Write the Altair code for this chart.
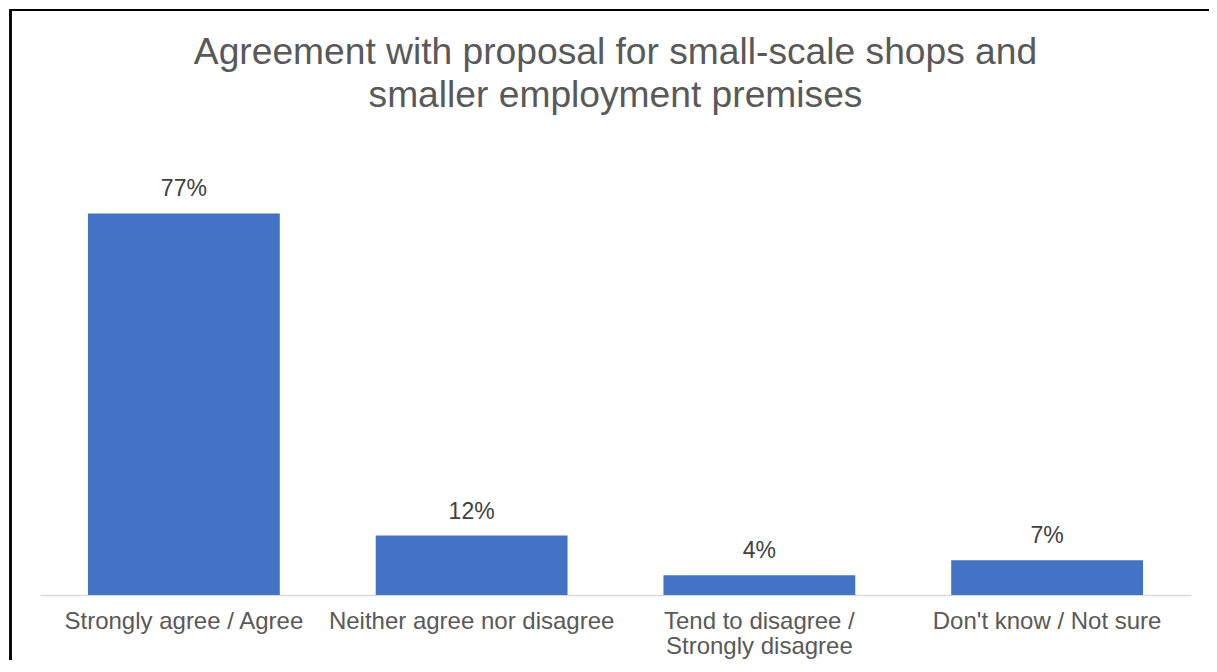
import altair as alt
import pandas as pd

categories = ["Strongly agree / Agree", "Neither agree nor disagree",
              "Tend to disagree /|Strongly disagree", "Don't know / Not sure"]
values = [77, 12, 4, 7]
value_labels = ["77%", "12%", "4%", "7%"]

df = pd.DataFrame({"cat": categories, "val": values, "lab": value_labels})

FONT = "Liberation Sans"

x_enc = alt.X("cat:N", sort=categories,
              scale=alt.Scale(paddingInner=1/3, paddingOuter=1/6),
              axis=alt.Axis(title=None, labelAngle=0, ticks=False,
                            labelExpr="split(datum.label, '|')",
                            labelFontSize=24, labelColor="#595959", labelFont=FONT,
                            labelLineHeight=25, labelPadding=14, labelLimit=400,
                            domainColor="#D9D9D9", domainWidth=1.5))
y_enc = alt.Y("val:Q", scale=alt.Scale(domain=[0, 90]), axis=None)

bars = alt.Chart(df).mark_bar(color="#4472C4").encode(x=x_enc, y=y_enc)

texts = alt.Chart(df).mark_text(baseline="alphabetic", dy=-17, fontSize=23,
                                color="#404040", font=FONT).encode(
    x=alt.X("cat:N", sort=categories), y="val:Q", text="lab:N")

border = alt.Chart(df).mark_rect(fill=None, stroke="black", strokeWidth=2).encode(
    x=alt.value(-29.5), x2=alt.value(1200), y=alt.value(-139), y2=alt.value(600))

chart = alt.layer(bars, texts, border).properties(
    width=1151, height=446,
    title=alt.Title(["Agreement with proposal for small-scale shops and",
                     "smaller employment premises"],
                    fontSize=37.2, font=FONT, fontWeight="normal", color="#595959",
                    anchor="middle", lineHeight=43, offset=-106),
    padding={"left": 32, "top": 141, "right": 18, "bottom": 65},
    autosize=alt.AutoSizeParams(type="none"),
).configure(background="white").configure_view(stroke=None)

chart.save("out.html", embed_options={"renderer": "svg", "actions": False})
